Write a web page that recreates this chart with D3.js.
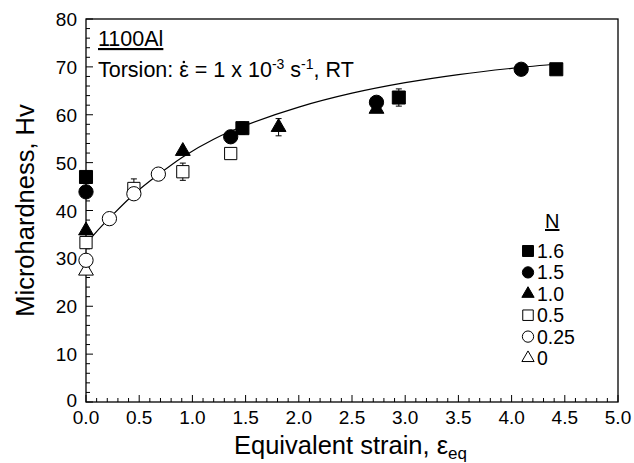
<!DOCTYPE html>
<html lang="en">
<head>
<meta charset="utf-8">
<script src="https://cdn.jsdelivr.net/npm/d3@7/dist/d3.min.js"></script>
<style>
body { margin: 0; background: #fff; }
svg { font-family: "Liberation Sans", Arial, sans-serif; }
.frame { fill: none; stroke: #000; stroke-width: 1.3; }
.tick-line { stroke: #000; stroke-width: 1; }
.fit { fill: none; stroke: #000; stroke-width: 1.2; }
.err { stroke: #000; stroke-width: 1; }
</style>
</head>
<body>
<div id="chart"></div>
<script>
// series: [strain, Hv, error]
var n16 = [[0, 47.0, 0], [1.47, 57.2, 1.3], [2.94, 63.6, 1.8], [4.42, 69.5, 0]];
var n15 = [[0, 43.9, 0], [1.36, 55.4, 0], [2.73, 62.6, 0], [4.09, 69.5, 0]];
var n10 = [[0, 35.8, 0], [0.91, 52.4, 0], [1.81, 57.4, 1.8], [2.73, 61.2, 0]];
var n05 = [[0, 33.3, 0], [0.45, 44.6, 2.0], [0.91, 48.1, 1.8], [1.36, 51.9, 0]];
var n025 = [[0, 29.6, 0], [0.22, 38.3, 0], [0.45, 43.5, 0], [0.68, 47.6, 0]];
var n0 = [[0, 27.4, 0]];

// fitted curve
var fitPts = [[0, 33.0], [0.1, 35.6], [0.22, 38.4], [0.45, 43.4], [0.68, 47.5],
  [0.91, 51.2], [1.2, 54.9], [1.5, 57.8], [2.0, 61.6], [2.5, 64.5],
  [3.0, 66.7], [3.5, 68.4], [4.0, 69.7], [4.48, 70.7]];

var xTicks = [0, 0.5, 1, 1.5, 2, 2.5, 3, 3.5, 4, 4.5, 5];
var yTicks = [0, 10, 20, 30, 40, 50, 60, 70, 80];
var legendLabels = ["1.6", "1.5", "1.0", "0.5", "0.25", "0"];

var width = 634, height = 463;
var margin = {left: 86, right: 16, top: 19, bottom: 61};

var svg = d3.select("#chart").append("svg")
  .attr("width", width).attr("height", height);

var x = d3.scaleLinear().domain([0, 5]).range([margin.left, width - margin.right]);
var y = d3.scaleLinear().domain([0, 80]).range([height - margin.bottom, margin.top]);

// frame
svg.append("rect").attr("class", "frame")
  .attr("x", x(0)).attr("y", y(80))
  .attr("width", x(5) - x(0)).attr("height", y(0) - y(80));

// x ticks (inside, pointing up)
var xMinor = d3.range(0, 51).map(function(i) { return i / 10; });
svg.append("g").selectAll("line").data(xMinor).enter().append("line")
  .attr("class", "tick-line")
  .attr("x1", function(d) { return x(d); }).attr("x2", function(d) { return x(d); })
  .attr("y1", y(0))
  .attr("y2", function(d, i) { return y(0) - (i % 5 === 0 ? 7 : 4); });

svg.append("g").selectAll("text").data(xTicks).enter().append("text")
  .attr("x", function(d) { return x(d); })
  .attr("y", y(0) + 22)
  .attr("text-anchor", "middle")
  .attr("font-size", 19)
  .text(function(d) { return d3.format(".1f")(d); });

// y ticks (inside, pointing right)
var yMinor = d3.range(0, 41).map(function(i) { return i * 2; });
svg.append("g").selectAll("line").data(yMinor).enter().append("line")
  .attr("class", "tick-line")
  .attr("y1", function(d) { return y(d); }).attr("y2", function(d) { return y(d); })
  .attr("x1", x(0))
  .attr("x2", function(d, i) { return x(0) + (i % 5 === 0 ? 7 : 4); });

svg.append("g").selectAll("text").data(yTicks).enter().append("text")
  .attr("x", x(0) - 9)
  .attr("y", function(d) { return y(d) + (d === 0 ? 5 : 7); })
  .attr("text-anchor", "end")
  .attr("font-size", 19)
  .text(function(d) { return d; });

// axis titles
svg.append("text")
  .attr("transform", "translate(34," + y(40) + ") rotate(-90)")
  .attr("text-anchor", "middle")
  .attr("font-size", 25.5)
  .text("Microhardness, Hv");

var xl = svg.append("text")
  .attr("x", 234).attr("y", 454)
  .attr("font-size", 25.5);
xl.append("tspan").text("Equivalent strain, \u03b5");
xl.append("tspan").attr("font-size", 17).attr("dy", 5).text("eq");

// fitted curve
var line = d3.line()
  .x(function(d) { return x(d[0]); })
  .y(function(d) { return y(d[1]); })
  .curve(d3.curveCatmullRom);
svg.append("path").datum(fitPts).attr("class", "fit").attr("d", line);

var series = [
  {data: n0, type: d3.symbolTriangle, fill: "#fff", size: 95},
  {data: n05, type: d3.symbolSquare, fill: "#fff", size: 150},
  {data: n025, type: d3.symbolCircle, fill: "#fff", size: 160},
  {data: n10, type: d3.symbolTriangle, fill: "#000", size: 95},
  {data: n15, type: d3.symbolCircle, fill: "#000", size: 160},
  {data: n16, type: d3.symbolSquare, fill: "#000", size: 170}
];

series.forEach(function(s) {
  var g = svg.append("g");
  var withErr = s.data.filter(function(d) { return d[2] > 0; });
  g.selectAll("path.err").data(withErr).enter().append("path")
    .attr("class", "err")
    .attr("d", function(d) {
      var cx = x(d[0]), t = y(d[1] + d[2]), b = y(d[1] - d[2]);
      return "M" + cx + "," + t + "V" + b +
        "M" + (cx - 3) + "," + t + "H" + (cx + 3) +
        "M" + (cx - 3) + "," + b + "H" + (cx + 3);
    });
  g.selectAll("path.mk").data(s.data).enter().append("path")
    .attr("class", "mk")
    .attr("transform", function(d) { return "translate(" + x(d[0]) + "," + y(d[1]) + ")"; })
    .attr("d", d3.symbol().type(s.type).size(s.size))
    .attr("fill", s.fill)
    .attr("stroke", "#000")
    .attr("stroke-width", 1);
});

// annotation
svg.append("text").attr("x", 98).attr("y", 46).attr("font-size", 21.5)
  .attr("text-decoration", "underline").text("1100Al");
var ann = svg.append("text").attr("x", 98).attr("y", 77).attr("font-size", 21.5);
var epsSpan = ann.append("tspan").text("Torsion: \u03b5");
ann.append("tspan").text(" = 1 x 10");
ann.append("tspan").attr("font-size", 14).attr("dy", -8).text("-3");
ann.append("tspan").attr("dy", 8).text(" s");
ann.append("tspan").attr("font-size", 14).attr("dy", -8).text("-1");
ann.append("tspan").attr("dy", 8).text(", RT");

// dot over the strain-rate epsilon
var epsEnd = epsSpan.node().getComputedTextLength();
svg.append("circle")
  .attr("cx", 98 + epsEnd - 5).attr("cy", 77 - 15)
  .attr("r", 1.3).attr("fill", "#000");

// legend
svg.append("text").attr("x", 545).attr("y", 228).attr("font-size", 20)
  .attr("text-decoration", "underline").text("N");

var legendSym = [
  {type: d3.symbolSquare, fill: "#000", size: 120},
  {type: d3.symbolCircle, fill: "#000", size: 100},
  {type: d3.symbolTriangle, fill: "#000", size: 65},
  {type: d3.symbolSquare, fill: "#fff", size: 110},
  {type: d3.symbolCircle, fill: "#fff", size: 100},
  {type: d3.symbolTriangle, fill: "#fff", size: 65}
];
var lg = svg.append("g").selectAll("g").data(legendLabels).enter().append("g")
  .attr("transform", function(d, i) { return "translate(528," + (251 + i * 21.4) + ")"; });
lg.append("path")
  .attr("d", function(d, i) { return d3.symbol().type(legendSym[i].type).size(legendSym[i].size)(); })
  .attr("fill", function(d, i) { return legendSym[i].fill; })
  .attr("stroke", "#000").attr("stroke-width", 1);
lg.append("text").attr("x", 9).attr("y", 7).attr("font-size", 19.5)
  .text(function(d) { return d; });
</script>
</body>
</html>
